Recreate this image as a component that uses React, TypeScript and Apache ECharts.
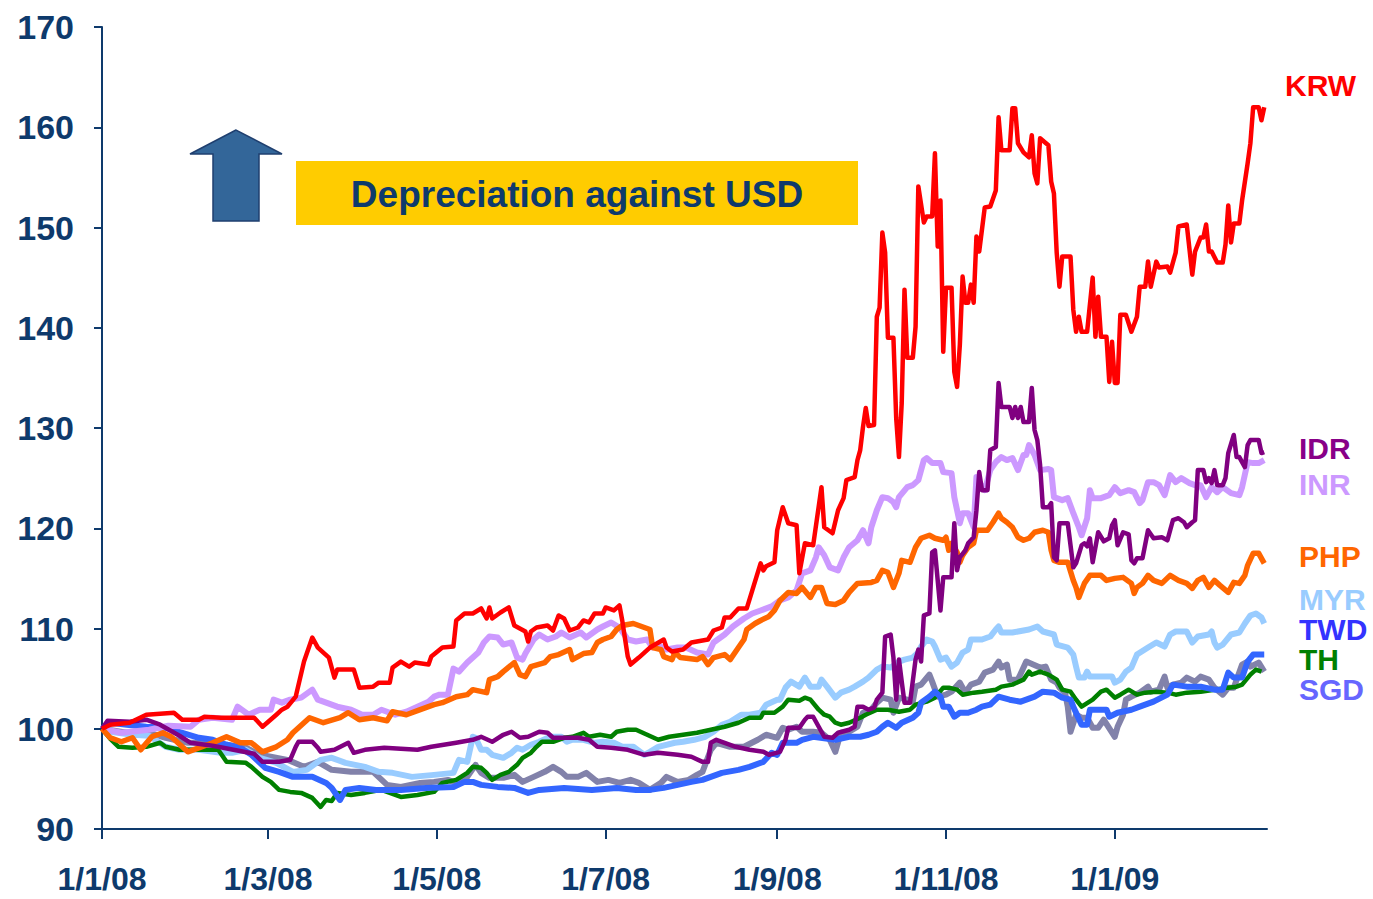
import React, { useEffect, useRef } from "react";
import * as echarts from "echarts";

type Pt = [string, number];

const X_TICKS = ["2008-01-01", "2008-03-01", "2008-05-01", "2008-07-01", "2008-09-01", "2008-11-01", "2009-01-01"];
const X_MIN = "2008-01-01";
const X_MAX = "2009-02-25";

const KRW: Pt[] = [
  ["2008-01-01",100],["2008-01-04",100.4],["2008-01-11",100.6],["2008-01-17",101.4],["2008-01-22",101.5],["2008-01-27",101.6],["2008-01-30",100.9],["2008-02-05",100.9],["2008-02-07",101.2],["2008-02-13",101.1],["2008-02-25",101.1],["2008-02-28",100.2],["2008-03-04",101.4],["2008-03-06",101.9],["2008-03-08",102.2],["2008-03-11",103.2],["2008-03-14",106.7],["2008-03-17",109.1],["2008-03-19",108.1],["2008-03-23",107.1],["2008-03-25",105.1],["2008-03-26",105.9],["2008-04-01",105.9],["2008-04-03",104.1],["2008-04-08",104.2],["2008-04-10",104.6],["2008-04-14",104.6],["2008-04-15",106.1],["2008-04-18",106.7],["2008-04-21",106.2],["2008-04-23",106.6],["2008-04-28",106.4],["2008-04-29",107.2],["2008-05-03",108.1],["2008-05-07",108.2],["2008-05-08",110.8],["2008-05-11",111.5],["2008-05-14",111.5],["2008-05-17",112],["2008-05-19",111],["2008-05-20",112.1],["2008-05-21",111],["2008-05-24",111.6],["2008-05-27",112.1],["2008-05-29",110.3],["2008-06-02",109.7],["2008-06-03",108.7],["2008-06-04",109.7],["2008-06-06",110.1],["2008-06-10",110.3],["2008-06-12",109.8],["2008-06-14",111.3],["2008-06-16",111],["2008-06-18",109.8],["2008-06-21",110.1],["2008-06-23",110.8],["2008-06-25",110.6],["2008-06-27",111.5],["2008-06-30",111.5],["2008-07-01",112.1],["2008-07-04",111.8],["2008-07-06",112.3],["2008-07-07",110.8],["2008-07-09",107.2],["2008-07-10",106.4],["2008-07-13",107.1],["2008-07-17",108.1],["2008-07-22",108.9],["2008-07-23",108.1],["2008-07-25",107.7],["2008-07-29",107.9],["2008-08-01",108.6],["2008-08-07",108.9],["2008-08-09",109.8],["2008-08-12",110.1],["2008-08-13",111.1],["2008-08-15",111.1],["2008-08-18",112],["2008-08-21",112],["2008-08-23",113.8],["2008-08-26",116.5],["2008-08-27",115.8],["2008-08-28",116.2],["2008-08-31",116.6],["2008-09-01",119.8],["2008-09-03",122.1],["2008-09-05",120.5],["2008-09-08",120.3],["2008-09-09",115.5],["2008-09-10",117],["2008-09-11",118.5],["2008-09-14",118.3],["2008-09-17",124.1],["2008-09-18",120.1],["2008-09-21",119.5],["2008-09-23",121.8],["2008-09-25",123],["2008-09-26",124.8],["2008-09-29",125.1],["2008-09-30",126.8],["2008-10-01",127.8],["2008-10-02",130.1],["2008-10-03",132],["2008-10-04",130.2],["2008-10-06",130.3],["2008-10-07",141.1],["2008-10-08",142],["2008-10-09",149.5],["2008-10-10",147.5],["2008-10-11",139],["2008-10-13",139],["2008-10-14",131],["2008-10-15",127.1],["2008-10-16",132.5],["2008-10-17",143.8],["2008-10-18",137],["2008-10-20",137],["2008-10-21",140.1],["2008-10-22",154.1],["2008-10-24",150.5],["2008-10-25",151.1],["2008-10-27",151.1],["2008-10-28",157.4],["2008-10-29",148.1],["2008-10-30",152.7],["2008-10-31",137.6],["2008-11-01",144],["2008-11-03",144],["2008-11-04",135.6],["2008-11-05",134.1],["2008-11-06",138.3],["2008-11-07",145.1],["2008-11-08",142.5],["2008-11-09",142.5],["2008-11-10",144.3],["2008-11-11",142.5],["2008-11-12",149.1],["2008-11-13",147.6],["2008-11-15",152],["2008-11-17",152.1],["2008-11-18",152.9],["2008-11-19",153.7],["2008-11-20",161],["2008-11-21",157.7],["2008-11-24",157.7],["2008-11-25",161.9],["2008-11-26",161.9],["2008-11-27",158.4],["2008-11-29",157.5],["2008-12-01",157],["2008-12-02",159.2],["2008-12-03",155.4],["2008-12-04",154.4],["2008-12-05",158.9],["2008-12-08",158.2],["2008-12-09",154.6],["2008-12-10",153.4],["2008-12-11",147.5],["2008-12-12",144.1],["2008-12-13",147.1],["2008-12-16",147.1],["2008-12-17",141.8],["2008-12-18",139.6],["2008-12-19",141.1],["2008-12-20",139.6],["2008-12-22",139.6],["2008-12-24",145],["2008-12-25",139.1],["2008-12-26",143.1],["2008-12-27",139.1],["2008-12-29",139.1],["2008-12-30",134.6],["2008-12-31",138.6],["2009-01-01",134.5],["2009-01-02",134.5],["2009-01-03",141.3],["2009-01-05",141.3],["2009-01-07",139.6],["2009-01-09",141.1],["2009-01-10",144.1],["2009-01-12",144.1],["2009-01-13",146.6],["2009-01-14",144.1],["2009-01-16",146.6],["2009-01-17",146],["2009-01-20",146.1],["2009-01-21",145.5],["2009-01-23",147.5],["2009-01-24",150.1],["2009-01-27",150.3],["2009-01-29",145.3],["2009-01-30",147.6],["2009-02-01",149],["2009-02-02",149],["2009-02-03",150.3],["2009-02-04",147.6],["2009-02-05",147.6],["2009-02-07",146.5],["2009-02-09",146.5],["2009-02-10",148.3],["2009-02-11",152.2],["2009-02-12",148.5],["2009-02-13",150.4],["2009-02-15",150.4],["2009-02-16",152.7],["2009-02-18",156.4],["2009-02-19",158.4],["2009-02-20",162],["2009-02-22",162],["2009-02-23",160.7],["2009-02-24",162]
];

const IDR: Pt[] = [
  ["2008-01-01",100],["2008-01-03",100.8],["2008-01-11",100.7],["2008-01-17",100.9],["2008-01-19",100.7],["2008-01-22",100.4],["2008-01-29",99.3],["2008-02-02",98.6],["2008-02-10",98.3],["2008-02-25",97.5],["2008-02-28",96.7],["2008-03-05",96.7],["2008-03-09",96.9],["2008-03-11",98.2],["2008-03-12",98.7],["2008-03-17",98.7],["2008-03-19",98.1],["2008-03-20",97.7],["2008-03-25",97.9],["2008-03-30",98.6],["2008-04-01",97.6],["2008-04-05",97.9],["2008-04-12",98.1],["2008-04-24",97.9],["2008-04-29",98.2],["2008-05-08",98.6],["2008-05-14",98.9],["2008-05-17",99.2],["2008-05-21",98.7],["2008-05-25",99.4],["2008-05-28",99.7],["2008-05-31",99.1],["2008-06-03",99.2],["2008-06-07",99.7],["2008-06-10",99.6],["2008-06-12",99.1],["2008-06-21",99.1],["2008-06-25",98.9],["2008-06-28",98.2],["2008-07-03",98.1],["2008-07-09",97.9],["2008-07-15",97.4],["2008-07-20",97.6],["2008-07-27",97.4],["2008-08-01",97.2],["2008-08-05",96.7],["2008-08-07",96.7],["2008-08-08",98.6],["2008-08-10",98.9],["2008-08-17",98.2],["2008-08-22",97.9],["2008-08-27",97.7],["2008-08-29",97.4],["2008-09-02",97.7],["2008-09-04",98.9],["2008-09-05",100.1],["2008-09-09",100.1],["2008-09-11",100.9],["2008-09-12",101.2],["2008-09-14",101.2],["2008-09-16",100.2],["2008-09-18",99.2],["2008-09-21",99.1],["2008-09-23",99.6],["2008-09-27",99.9],["2008-09-29",100.2],["2008-09-30",102.2],["2008-10-02",102.2],["2008-10-04",101.9],["2008-10-06",102.1],["2008-10-07",102.9],["2008-10-09",103.6],["2008-10-10",109.2],["2008-10-12",109.4],["2008-10-13",107.1],["2008-10-14",102.9],["2008-10-15",106.9],["2008-10-16",104.7],["2008-10-17",102.6],["2008-10-19",102.6],["2008-10-21",106.9],["2008-10-22",107.9],["2008-10-23",106.7],["2008-10-24",111.3],["2008-10-26",111.5],["2008-10-27",117.6],["2008-10-28",117.8],["2008-10-30",111.8],["2008-10-31",115.1],["2008-11-03",115.1],["2008-11-04",120.5],["2008-11-05",115.8],["2008-11-06",117.1],["2008-11-08",117.8],["2008-11-09",118.5],["2008-11-11",119.1],["2008-11-12",121.8],["2008-11-13",125.6],["2008-11-14",123.8],["2008-11-16",123.8],["2008-11-17",127.8],["2008-11-19",128.1],["2008-11-20",134.5],["2008-11-21",132.1],["2008-11-24",132.1],["2008-11-25",131],["2008-11-26",132.1],["2008-11-27",131],["2008-11-28",132.1],["2008-11-29",130.6],["2008-12-01",130.6],["2008-12-02",134],["2008-12-03",129.8],["2008-12-04",128.8],["2008-12-05",126.3],["2008-12-06",122.1],["2008-12-08",122.1],["2008-12-09",122.5],["2008-12-10",117.1],["2008-12-11",116.8],["2008-12-12",120.5],["2008-12-15",120.5],["2008-12-17",116.1],["2008-12-18",116.5],["2008-12-20",118.3],["2008-12-21",118.5],["2008-12-22",118.2],["2008-12-23",119],["2008-12-24",116.6],["2008-12-26",119.6],["2008-12-28",118.7],["2008-12-30",119],["2008-12-31",120.3],["2009-01-01",120.8],["2009-01-02",118.3],["2009-01-04",119.6],["2009-01-06",119.4],["2009-01-07",116.8],["2009-01-08",116.5],["2009-01-09",117],["2009-01-11",117],["2009-01-13",119.8],["2009-01-15",119],["2009-01-18",119.1],["2009-01-20",118.8],["2009-01-22",120.8],["2009-01-24",121],["2009-01-26",120.6],["2009-01-27",120.1],["2009-01-29",120.6],["2009-01-30",120.8],["2009-01-31",125.8],["2009-02-02",125.8],["2009-02-03",124.6],["2009-02-04",125],["2009-02-05",124.5],["2009-02-06",125.8],["2009-02-07",124.3],["2009-02-09",124.3],["2009-02-10",125],["2009-02-11",127.5],["2009-02-13",129.3],["2009-02-14",127.1],["2009-02-15",127.1],["2009-02-17",126.1],["2009-02-18",128.3],["2009-02-19",128.8],["2009-02-22",128.8],["2009-02-23",127.5],["2009-02-24",127.6]
];

const INR: Pt[] = [
  ["2008-01-01",100],["2008-01-08",99.6],["2008-01-18",99.9],["2008-01-25",100.3],["2008-02-02",100.2],["2008-02-05",100.9],["2008-02-10",101.1],["2008-02-17",100.9],["2008-02-19",102.2],["2008-02-23",101.4],["2008-02-27",101.9],["2008-03-02",101.9],["2008-03-03",102.9],["2008-03-06",102.6],["2008-03-09",102.9],["2008-03-13",103.1],["2008-03-17",103.9],["2008-03-19",102.9],["2008-03-22",102.6],["2008-03-26",102.2],["2008-03-31",101.9],["2008-04-04",101.4],["2008-04-08",101.4],["2008-04-11",101.9],["2008-04-16",101.4],["2008-04-20",101.7],["2008-04-24",102.2],["2008-04-28",102.7],["2008-04-30",103.2],["2008-05-02",103.4],["2008-05-05",103.4],["2008-05-07",106],["2008-05-09",105.7],["2008-05-12",106.6],["2008-05-14",107.1],["2008-05-16",107.6],["2008-05-18",108.6],["2008-05-20",109.2],["2008-05-23",109.1],["2008-05-25",108.4],["2008-05-28",108.6],["2008-05-30",107.1],["2008-06-01",106.9],["2008-06-02",107.5],["2008-06-05",108.9],["2008-06-07",109.4],["2008-06-10",108.9],["2008-06-13",109.2],["2008-06-15",109.6],["2008-06-18",109.1],["2008-06-22",109.6],["2008-06-24",109.1],["2008-06-28",109.9],["2008-06-30",110.2],["2008-07-03",110.6],["2008-07-06",110.1],["2008-07-09",108.9],["2008-07-12",108.7],["2008-07-16",108.9],["2008-07-18",108.1],["2008-07-20",108.3],["2008-07-23",107.9],["2008-07-27",108.1],["2008-07-30",108.1],["2008-08-03",107.6],["2008-08-07",107.4],["2008-08-09",108.6],["2008-08-13",109.4],["2008-08-16",110.2],["2008-08-20",111],["2008-08-23",111.5],["2008-08-26",111.8],["2008-08-30",112.2],["2008-09-02",112.8],["2008-09-05",113.1],["2008-09-08",113.8],["2008-09-10",115.5],["2008-09-13",115.8],["2008-09-15",117.1],["2008-09-16",118.1],["2008-09-18",117.3],["2008-09-20",116.1],["2008-09-23",115.8],["2008-09-25",117.1],["2008-09-27",118.1],["2008-09-30",118.8],["2008-10-02",119.8],["2008-10-04",118.5],["2008-10-05",120.1],["2008-10-07",121.8],["2008-10-09",123.1],["2008-10-11",123],["2008-10-13",122.6],["2008-10-14",122.1],["2008-10-15",123.1],["2008-10-18",124.1],["2008-10-20",124.3],["2008-10-22",124.8],["2008-10-24",126.8],["2008-10-25",127],["2008-10-27",126.5],["2008-10-30",126.5],["2008-10-31",125.6],["2008-11-03",125.5],["2008-11-04",123.1],["2008-11-05",121.8],["2008-11-06",120.5],["2008-11-07",121.5],["2008-11-09",121.5],["2008-11-11",120.1],["2008-11-12",125.1],["2008-11-13",124.5],["2008-11-15",123.8],["2008-11-17",125.8],["2008-11-19",126.6],["2008-11-21",127.1],["2008-11-23",126.8],["2008-11-25",127],["2008-11-27",125.8],["2008-11-29",127.3],["2008-11-30",127.3],["2008-12-01",128.3],["2008-12-03",127.3],["2008-12-05",125.8],["2008-12-08",125.9],["2008-12-09",125.8],["2008-12-10",123.1],["2008-12-13",122.8],["2008-12-15",123],["2008-12-17",121.5],["2008-12-19",120.1],["2008-12-20",119.3],["2008-12-22",121],["2008-12-23",123.8],["2008-12-24",123],["2008-12-27",123],["2008-12-30",123.3],["2009-01-01",124.1],["2009-01-03",123.5],["2009-01-06",123.8],["2009-01-08",123.6],["2009-01-10",122.5],["2009-01-11",122.8],["2009-01-13",124.6],["2009-01-15",124.6],["2009-01-17",124.3],["2009-01-19",123.3],["2009-01-21",125.3],["2009-01-23",124.6],["2009-01-25",125],["2009-01-28",124.5],["2009-01-30",124.3],["2009-02-01",124.3],["2009-02-03",123.1],["2009-02-05",124.1],["2009-02-07",123.6],["2009-02-09",124.1],["2009-02-12",123.5],["2009-02-15",123.3],["2009-02-16",124.1],["2009-02-18",126.6],["2009-02-20",126.5],["2009-02-22",126.5],["2009-02-24",126.8]
];

const PHP: Pt[] = [
  ["2008-01-01",100],["2008-01-04",99.1],["2008-01-08",98.7],["2008-01-12",99.1],["2008-01-15",97.9],["2008-01-19",99.2],["2008-01-23",99.6],["2008-01-26",99.2],["2008-02-01",97.7],["2008-02-05",98.1],["2008-02-10",98.6],["2008-02-15",99.2],["2008-02-20",98.6],["2008-02-24",98.6],["2008-02-28",97.7],["2008-03-04",98.2],["2008-03-08",98.9],["2008-03-10",99.6],["2008-03-14",100.6],["2008-03-16",101.1],["2008-03-21",100.6],["2008-03-27",101.1],["2008-03-30",101.6],["2008-04-03",100.9],["2008-04-08",101.1],["2008-04-13",100.8],["2008-04-15",101.7],["2008-04-20",101.4],["2008-04-25",101.9],["2008-04-30",102.4],["2008-05-03",102.6],["2008-05-08",103.2],["2008-05-12",103.4],["2008-05-14",103.9],["2008-05-19",103.6],["2008-05-20",104.9],["2008-05-23",105.2],["2008-05-25",105.7],["2008-05-29",106.6],["2008-05-31",105.4],["2008-06-02",105.2],["2008-06-04",106.2],["2008-06-09",106.6],["2008-06-11",107.2],["2008-06-14",107.4],["2008-06-18",107.9],["2008-06-19",106.9],["2008-06-23",107.5],["2008-06-26",107.6],["2008-06-28",108.6],["2008-06-30",108.9],["2008-07-03",109.2],["2008-07-05",109.9],["2008-07-07",110.3],["2008-07-11",110.5],["2008-07-15",110.1],["2008-07-17",109.9],["2008-07-18",108.1],["2008-07-21",107.9],["2008-07-22",107.2],["2008-07-25",106.9],["2008-07-26",107.6],["2008-07-28",107.1],["2008-08-03",106.9],["2008-08-05",107.2],["2008-08-07",106.4],["2008-08-09",107.1],["2008-08-13",107.4],["2008-08-15",106.9],["2008-08-18",108.1],["2008-08-20",108.9],["2008-08-21",109.9],["2008-08-24",110.5],["2008-08-26",110.8],["2008-08-29",111.2],["2008-08-31",111.8],["2008-09-02",112.8],["2008-09-05",113.6],["2008-09-08",113.5],["2008-09-10",114.1],["2008-09-13",113.1],["2008-09-15",114.1],["2008-09-17",114.1],["2008-09-19",112.5],["2008-09-22",112.4],["2008-09-25",112.8],["2008-09-27",113.6],["2008-09-30",114.5],["2008-10-05",114.6],["2008-10-07",114.8],["2008-10-09",115.8],["2008-10-11",115.6],["2008-10-13",114.1],["2008-10-15",115.5],["2008-10-16",116.8],["2008-10-19",116.6],["2008-10-21",118.1],["2008-10-23",119],["2008-10-26",119.3],["2008-10-28",119],["2008-10-31",118.8],["2008-11-01",119.1],["2008-11-02",117.8],["2008-11-03",118.5],["2008-11-05",117.6],["2008-11-06",116.6],["2008-11-07",117.3],["2008-11-09",118.1],["2008-11-11",118.5],["2008-11-12",119.8],["2008-11-16",119.8],["2008-11-18",120.6],["2008-11-20",121.5],["2008-11-21",121],["2008-11-23",120.6],["2008-11-25",120.1],["2008-11-27",119.1],["2008-11-29",118.8],["2008-12-01",119],["2008-12-03",119.6],["2008-12-06",119.8],["2008-12-08",119.6],["2008-12-09",117.8],["2008-12-10",116.8],["2008-12-12",116.6],["2008-12-15",116.6],["2008-12-17",114.8],["2008-12-18",114.1],["2008-12-19",113.1],["2008-12-21",114.5],["2008-12-23",115.3],["2008-12-27",115.3],["2008-12-29",114.8],["2009-01-01",115],["2009-01-04",115.1],["2009-01-07",114.5],["2009-01-08",113.5],["2009-01-09",114.1],["2009-01-11",114.5],["2009-01-13",115.3],["2009-01-15",114.8],["2009-01-18",114.5],["2009-01-21",115.3],["2009-01-24",114.8],["2009-01-27",114.5],["2009-01-29",114],["2009-01-31",114.8],["2009-02-02",115.1],["2009-02-04",114.1],["2009-02-06",114.8],["2009-02-08",114.3],["2009-02-11",113.6],["2009-02-13",114.6],["2009-02-15",114.5],["2009-02-17",115.3],["2009-02-18",116.3],["2009-02-20",117.5],["2009-02-22",117.5],["2009-02-24",116.5]
];

const MYR: Pt[] = [
  ["2008-01-01",100],["2008-01-04",99.7],["2008-01-12",99.4],["2008-01-18",99.3],["2008-01-24",98.2],["2008-01-29",97.9],["2008-02-05",97.9],["2008-02-13",97.6],["2008-02-17",97.6],["2008-02-22",97.9],["2008-02-27",97.1],["2008-03-04",96.6],["2008-03-10",95.7],["2008-03-15",95.9],["2008-03-20",96.9],["2008-03-24",97.1],["2008-03-29",96.6],["2008-04-05",96.2],["2008-04-10",95.7],["2008-04-15",95.6],["2008-04-22",95.2],["2008-04-30",95.4],["2008-05-07",95.6],["2008-05-09",96.9],["2008-05-12",96.7],["2008-05-14",99.2],["2008-05-15",99.1],["2008-05-17",97.9],["2008-05-19",97.9],["2008-05-21",97.4],["2008-05-25",97.1],["2008-05-28",97.6],["2008-05-30",98.1],["2008-06-01",97.9],["2008-06-04",98.4],["2008-06-07",98.7],["2008-06-11",99.2],["2008-06-15",99.2],["2008-06-17",98.7],["2008-06-19",98.9],["2008-06-23",98.9],["2008-06-27",98.6],["2008-06-30",98.7],["2008-07-04",98.6],["2008-07-07",98.2],["2008-07-11",98.2],["2008-07-15",97.4],["2008-07-17",97.7],["2008-07-20",98.2],["2008-07-26",98.6],["2008-07-29",98.7],["2008-08-02",98.9],["2008-08-06",99.2],["2008-08-09",99.7],["2008-08-12",100.4],["2008-08-15",100.7],["2008-08-19",101.4],["2008-08-22",101.4],["2008-08-26",101.6],["2008-08-28",102.4],["2008-09-01",102.9],["2008-09-02",102.9],["2008-09-04",104.1],["2008-09-06",104.7],["2008-09-09",104.2],["2008-09-11",105.1],["2008-09-13",104.2],["2008-09-16",104.2],["2008-09-17",104.9],["2008-09-19",104.2],["2008-09-22",103.1],["2008-09-24",103.6],["2008-09-27",103.9],["2008-09-29",104.2],["2008-10-02",104.7],["2008-10-04",105.1],["2008-10-07",105.9],["2008-10-09",106.2],["2008-10-12",106.1],["2008-10-15",106.7],["2008-10-17",106.9],["2008-10-20",107.1],["2008-10-22",107.6],["2008-10-23",108.2],["2008-10-25",108.9],["2008-10-27",108.7],["2008-10-28",108.2],["2008-10-30",106.9],["2008-11-01",107.1],["2008-11-03",106.2],["2008-11-05",106.6],["2008-11-07",107.6],["2008-11-09",107.9],["2008-11-10",108.9],["2008-11-14",108.9],["2008-11-17",109.2],["2008-11-19",109.9],["2008-11-20",110.2],["2008-11-21",109.6],["2008-11-25",109.6],["2008-12-01",109.9],["2008-12-04",110.2],["2008-12-06",109.7],["2008-12-10",109.4],["2008-12-11",108.4],["2008-12-15",108.1],["2008-12-17",107.4],["2008-12-18",106.2],["2008-12-19",105.1],["2008-12-21",105.1],["2008-12-22",105.7],["2008-12-23",105.2],["2008-12-31",105.2],["2009-01-01",104.6],["2009-01-03",104.9],["2009-01-05",105.7],["2009-01-07",106.1],["2009-01-09",107.4],["2009-01-13",108.1],["2009-01-16",108.6],["2009-01-19",108.2],["2009-01-21",109.4],["2009-01-23",109.7],["2009-01-27",109.7],["2009-01-29",108.6],["2009-01-31",109.2],["2009-02-04",109.4],["2009-02-05",109.7],["2009-02-06",108.6],["2009-02-07",108.1],["2009-02-09",108.4],["2009-02-12",109.4],["2009-02-15",109.6],["2009-02-17",110.5],["2009-02-19",111.3],["2009-02-21",111.5],["2009-02-23",111.1],["2009-02-24",110.5]
];

const TWD: Pt[] = [
  ["2008-01-01",100],["2008-01-04",100.6],["2008-01-10",100.4],["2008-01-17",100.2],["2008-01-24",100.1],["2008-01-30",99.6],["2008-02-05",99.1],["2008-02-10",98.9],["2008-02-15",98.4],["2008-02-20",98.1],["2008-02-24",97.4],["2008-02-29",96.1],["2008-03-05",95.7],["2008-03-10",95.2],["2008-03-17",95.2],["2008-03-22",94.6],["2008-03-24",94.1],["2008-03-27",92.9],["2008-03-29",93.9],["2008-04-03",94.1],["2008-04-09",93.9],["2008-04-18",93.9],["2008-04-27",94.1],["2008-05-07",94.2],["2008-05-11",94.7],["2008-05-14",94.7],["2008-05-17",94.4],["2008-05-23",94.2],["2008-05-29",94.1],["2008-06-03",93.6],["2008-06-07",93.9],["2008-06-16",94.1],["2008-06-26",93.9],["2008-07-05",94.1],["2008-07-12",93.9],["2008-07-17",93.9],["2008-07-22",94.1],["2008-07-27",94.4],["2008-08-01",94.7],["2008-08-05",94.9],["2008-08-08",95.2],["2008-08-12",95.6],["2008-08-18",95.9],["2008-08-22",96.2],["2008-08-27",96.7],["2008-08-30",97.6],["2008-09-01",97.4],["2008-09-03",98.6],["2008-09-08",98.6],["2008-09-10",98.9],["2008-09-14",99.2],["2008-09-22",98.9],["2008-09-27",99.2],["2008-10-01",99.2],["2008-10-04",99.4],["2008-10-07",99.7],["2008-10-09",100.2],["2008-10-11",100.6],["2008-10-14",100.1],["2008-10-16",100.6],["2008-10-20",101.1],["2008-10-22",101.6],["2008-10-23",102.6],["2008-10-26",103.2],["2008-10-28",103.7],["2008-10-30",103.2],["2008-10-31",102.2],["2008-11-02",102.2],["2008-11-04",101.2],["2008-11-06",101.6],["2008-11-09",101.6],["2008-11-12",101.9],["2008-11-14",102.2],["2008-11-17",102.4],["2008-11-20",103.2],["2008-11-24",102.9],["2008-11-28",102.7],["2008-12-03",103.2],["2008-12-06",103.7],["2008-12-10",103.6],["2008-12-13",103.1],["2008-12-16",102.9],["2008-12-17",102.2],["2008-12-20",100.4],["2008-12-22",100.4],["2008-12-23",101.9],["2008-12-29",101.9],["2008-12-30",101.2],["2009-01-02",101.6],["2009-01-07",101.9],["2009-01-10",102.2],["2009-01-15",102.7],["2009-01-20",103.4],["2009-01-22",104.4],["2009-01-27",104.2],["2009-02-01",104.2],["2009-02-06",103.9],["2009-02-09",103.9],["2009-02-11",105.6],["2009-02-13",105.1],["2009-02-16",105.1],["2009-02-18",106.7],["2009-02-20",107.4],["2009-02-24",107.4]
];

const TH: Pt[] = [
  ["2008-01-01",100],["2008-01-04",99],["2008-01-07",98.2],["2008-01-12",98.1],["2008-01-17",98.2],["2008-01-22",98.6],["2008-01-24",98.2],["2008-01-29",97.9],["2008-02-05",97.9],["2008-02-12",97.9],["2008-02-15",96.7],["2008-02-22",96.6],["2008-02-24",96.2],["2008-02-28",95.2],["2008-03-02",94.7],["2008-03-05",93.9],["2008-03-09",93.7],["2008-03-13",93.6],["2008-03-17",93.1],["2008-03-20",92.2],["2008-03-22",92.9],["2008-03-24",92.8],["2008-03-26",93.6],["2008-03-31",93.4],["2008-04-05",93.6],["2008-04-11",93.9],["2008-04-18",93.2],["2008-04-24",93.4],["2008-04-30",93.7],["2008-05-03",94.6],["2008-05-08",94.9],["2008-05-12",95.6],["2008-05-14",96.2],["2008-05-17",96.1],["2008-05-19",95.6],["2008-05-21",94.9],["2008-05-24",95.4],["2008-05-27",95.7],["2008-05-30",96.4],["2008-06-01",97.1],["2008-06-04",97.6],["2008-06-06",98.2],["2008-06-08",98.7],["2008-06-12",98.7],["2008-06-16",99.1],["2008-06-19",99.2],["2008-06-23",99.6],["2008-06-25",99.2],["2008-06-29",99.4],["2008-07-03",99.2],["2008-07-05",99.7],["2008-07-09",99.9],["2008-07-12",99.9],["2008-07-16",99.4],["2008-07-20",98.9],["2008-07-24",99.2],["2008-07-29",99.4],["2008-08-03",99.6],["2008-08-08",99.9],["2008-08-13",100.2],["2008-08-18",100.6],["2008-08-22",101.1],["2008-08-26",101.1],["2008-08-27",101.6],["2008-08-31",101.6],["2008-09-03",102.2],["2008-09-05",102.9],["2008-09-09",102.8],["2008-09-11",103.1],["2008-09-13",102.9],["2008-09-16",101.9],["2008-09-18",101.4],["2008-09-20",101.2],["2008-09-22",100.6],["2008-09-24",100.4],["2008-09-27",100.6],["2008-10-01",101.1],["2008-10-03",101.4],["2008-10-07",101.9],["2008-10-11",101.9],["2008-10-15",101.7],["2008-10-19",101.9],["2008-10-21",102.4],["2008-10-25",102.7],["2008-10-28",103.1],["2008-10-31",104.1],["2008-11-02",104.1],["2008-11-05",103.9],["2008-11-07",103.4],["2008-11-11",103.6],["2008-11-14",103.7],["2008-11-19",103.9],["2008-11-21",104.2],["2008-11-25",104.4],["2008-11-29",104.9],["2008-12-01",105.7],["2008-12-02",105.4],["2008-12-05",105.7],["2008-12-08",105.4],["2008-12-11",104.9],["2008-12-13",103.9],["2008-12-16",103.7],["2008-12-18",102.9],["2008-12-20",102.2],["2008-12-24",102.9],["2008-12-27",103.7],["2008-12-29",103.9],["2009-01-01",103.1],["2009-01-03",103.4],["2009-01-06",103.9],["2009-01-09",103.4],["2009-01-12",103.6],["2009-01-16",103.7],["2009-01-20",103.6],["2009-01-23",103.4],["2009-01-27",103.6],["2009-02-01",103.7],["2009-02-06",103.9],["2009-02-11",104.1],["2009-02-14",104.2],["2009-02-16",104.4],["2009-02-19",105.4],["2009-02-21",105.9],["2009-02-23",105.7]
];

const SGD: Pt[] = [
  ["2008-01-01",100],["2008-01-10",99.6],["2008-01-17",99.7],["2008-01-24",99.1],["2008-02-01",98.6],["2008-02-08",98.6],["2008-02-15",98.4],["2008-02-22",98.1],["2008-02-27",97.4],["2008-03-02",97.2],["2008-03-08",96.9],["2008-03-14",96.2],["2008-03-19",96.7],["2008-03-24",95.9],["2008-03-31",95.7],["2008-04-08",95.7],["2008-04-13",94.4],["2008-04-18",94.2],["2008-04-25",94.6],["2008-04-30",94.7],["2008-05-05",94.9],["2008-05-08",94.6],["2008-05-12",95.2],["2008-05-15",96.4],["2008-05-17",95.6],["2008-05-20",95.1],["2008-05-25",95.1],["2008-05-29",95.4],["2008-06-01",94.7],["2008-06-05",95.2],["2008-06-09",95.7],["2008-06-12",96.2],["2008-06-15",95.7],["2008-06-17",95.2],["2008-06-21",95.2],["2008-06-24",95.6],["2008-06-28",94.7],["2008-07-02",94.9],["2008-07-06",94.6],["2008-07-10",94.9],["2008-07-13",94.6],["2008-07-17",93.9],["2008-07-21",94.6],["2008-07-23",95.2],["2008-07-27",94.7],["2008-07-31",94.9],["2008-08-03",95.4],["2008-08-05",95.7],["2008-08-08",97.9],["2008-08-10",98.6],["2008-08-15",98.2],["2008-08-20",98.2],["2008-08-25",98.9],["2008-08-28",99.4],["2008-09-01",99.1],["2008-09-03",100.1],["2008-09-05",99.9],["2008-09-08",100.2],["2008-09-10",99.7],["2008-09-14",99.7],["2008-09-17",99.6],["2008-09-20",98.9],["2008-09-22",97.7],["2008-09-24",99.6],["2008-09-27",99.7],["2008-09-30",100.2],["2008-10-02",101.6],["2008-10-05",101.9],["2008-10-07",102.6],["2008-10-09",103.1],["2008-10-12",102.9],["2008-10-13",101.6],["2008-10-15",103.1],["2008-10-18",102.9],["2008-10-20",102.7],["2008-10-21",104.2],["2008-10-23",104.4],["2008-10-26",105.4],["2008-10-27",104.7],["2008-10-29",103.2],["2008-11-01",103.4],["2008-11-03",103.7],["2008-11-06",104.6],["2008-11-08",103.6],["2008-11-10",104.4],["2008-11-13",104.7],["2008-11-15",105.6],["2008-11-18",105.9],["2008-11-20",106.7],["2008-11-21",106.1],["2008-11-23",106.4],["2008-11-24",104.9],["2008-11-27",104.9],["2008-11-30",106.7],["2008-12-05",106.1],["2008-12-07",106.2],["2008-12-09",104.9],["2008-12-11",104.6],["2008-12-12",104.1],["2008-12-14",103.6],["2008-12-15",102.2],["2008-12-16",99.7],["2008-12-18",101.4],["2008-12-20",101.1],["2008-12-22",101.1],["2008-12-24",100.1],["2008-12-26",100.1],["2008-12-28",100.9],["2009-01-01",99.2],["2009-01-02",100.2],["2009-01-04",101.4],["2009-01-05",102.9],["2009-01-07",103.2],["2009-01-10",103.6],["2009-01-13",104.2],["2009-01-14",103.7],["2009-01-17",103.9],["2009-01-19",105.2],["2009-01-20",104.1],["2009-01-22",104.4],["2009-01-25",104.6],["2009-01-27",105.1],["2009-01-30",104.7],["2009-02-01",105.2],["2009-02-04",104.9],["2009-02-06",104.1],["2009-02-09",103.4],["2009-02-11",104.1],["2009-02-13",104.1],["2009-02-16",106.4],["2009-02-18",106.7],["2009-02-19",106.2],["2009-02-22",106.6],["2009-02-24",105.7]
];

const NAVY = "#0E3A6C";
const FONT = '"Liberation Sans", Arial, sans-serif';

const ts = (s: string) => {
  const [y, m, d] = s.split("-").map(Number);
  return new Date(y, m - 1, d).getTime();
};
const toData = (pts: Pt[]) => pts.map(([d, v]) => [ts(d), v]);

const SERIES = [
  { name: "SGD", data: SGD, color: "#8282AA", width: 6, label: "#6666FF", ly: 689 },
  { name: "MYR", data: MYR, color: "#99CCFF", width: 6, label: "#99CCFF", ly: 599 },
  { name: "TH", data: TH, color: "#008000", width: 4.5, label: "#008000", ly: 659 },
  { name: "TWD", data: TWD, color: "#3366FF", width: 6, label: "#3333FF", ly: 629 },
  { name: "INR", data: INR, color: "#CC99FF", width: 6, label: "#CC99FF", ly: 484 },
  { name: "PHP", data: PHP, color: "#FF6600", width: 5.5, label: "#FF6600", ly: 556 },
  { name: "IDR", data: IDR, color: "#800080", width: 4.5, label: "#880088", ly: 448 },
  { name: "KRW", data: KRW, color: "#FF0000", width: 4.5, label: "#FF0000", ly: 85 },
];

export default function App() {
  const ref = useRef<HTMLDivElement>(null);
  useEffect(() => {
    document.body.style.margin = "0";
    if (!ref.current) return;
    const chart = echarts.init(ref.current, null, { renderer: "svg" });
    const fmt = (v: number) => {
      const d = new Date(v);
      return `${d.getDate()}/${d.getMonth() + 1}/${String(d.getFullYear()).slice(2)}`;
    };
    const tickVals = X_TICKS.map(ts);
    chart.setOption({
      animation: false,
      backgroundColor: "#ffffff",
      grid: { left: 102, right: 106, top: 27, bottom: 70, containLabel: false },
      xAxis: {
        type: "value",
        min: ts(X_MIN),
        max: ts(X_MAX),
        axisLine: { show: true, onZero: false, lineStyle: { color: NAVY, width: 2 } },
        axisTick: { show: true, inside: false, length: 10, customValues: tickVals, lineStyle: { color: NAVY, width: 2 } },
        axisLabel: {
          customValues: tickVals,
          formatter: fmt,
          color: NAVY,
          fontFamily: FONT,
          fontWeight: "bold",
          fontSize: 32,
          lineHeight: 32,
          margin: 34,
        },
        splitLine: { show: false },
      },
      yAxis: {
        type: "value",
        min: 90,
        max: 170,
        interval: 10,
        axisLine: { show: true, lineStyle: { color: NAVY, width: 2 } },
        axisTick: { show: true, inside: false, length: 8, lineStyle: { color: NAVY, width: 2 } },
        axisLabel: { color: NAVY, fontFamily: FONT, fontWeight: "bold", fontSize: 34, margin: 28 },
        splitLine: { show: false },
      },
      series: SERIES.map((s) => ({
        name: s.name,
        type: "line",
        data: toData(s.data),
        showSymbol: false,
        symbol: "none",
        lineStyle: { color: s.color, width: s.width, join: "round" },
        itemStyle: { color: s.color },
        z: 2,
      })),
      graphic: [
        {
          type: "polygon",
          shape: { points: [[236, 130], [190, 154], [213, 154], [213, 221], [259, 221], [259, 154], [282, 154]] },
          style: { fill: "#336699", stroke: "#1F3F6F", lineWidth: 1.5 },
        },
        { type: "rect", shape: { x: 296, y: 161, width: 562, height: 64 }, style: { fill: "#FFCC00" } },
        {
          type: "text",
          x: 577,
          y: 194,
          style: {
            text: "Depreciation against USD",
            fill: "#0E3A6C",
            font: `bold 37px ${FONT}`,
            align: "center",
            verticalAlign: "middle",
          },
        },
        ...SERIES.map((s) => ({
          type: "text",
          x: s.name === "KRW" ? 1285 : 1299,
          y: s.ly,
          style: {
            text: s.name,
            fill: s.label,
            font: `bold 30px ${FONT}`,
            lineHeight: 27,
            align: "left",
            verticalAlign: "middle",
          },
        })),
      ],
    });
    return () => chart.dispose();
  }, []);
  return <div ref={ref} style={{ width: 1373, height: 899 }} />;
}
